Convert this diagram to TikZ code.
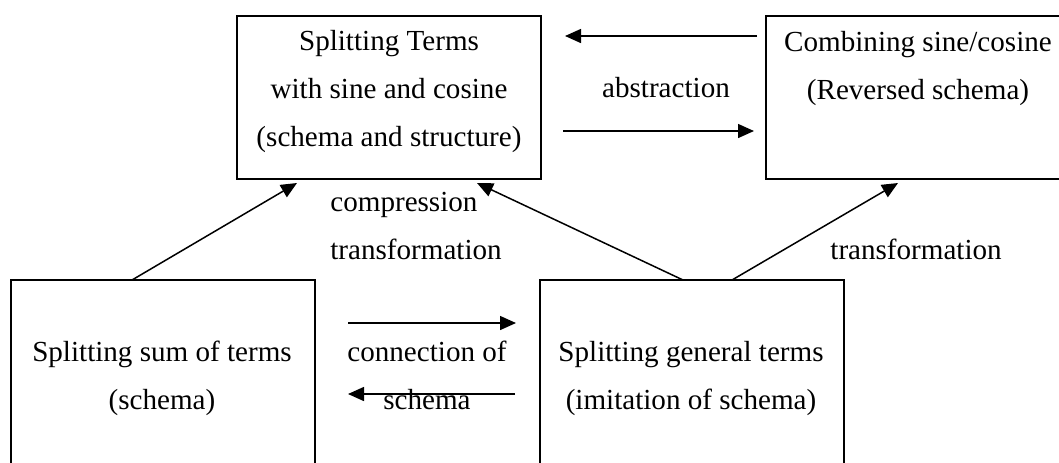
\documentclass[tikz,border=0pt]{standalone}
\usepackage{fontspec}
\setmainfont{Liberation Serif}
\usetikzlibrary{arrows.meta}

\begin{document}
\begin{tikzpicture}[x=0.5pt,y=-0.5pt,>={Triangle[length=8pt,width=7pt]},
  box node/.style={draw,line width=1pt,rectangle,anchor=north west,inner sep=0pt,outer sep=0pt,
    minimum width=152pt,minimum height=81.5pt},
  text node/.style={anchor=base,align=center,inner sep=0pt,font=\fontsize{14.55}{24}\selectfont},
  link/.style={->,line width=0.75pt}]

  \useasboundingbox (0,0) rectangle (1059,462);
  \clip (0,0) rectangle (1059,462);

  % boxes
  \node[box node] (split) at (237,16) {};
  \node[box node] (comb) at (766,16) {};
  \node[box node,minimum height=125pt] (sum) at (11,280) {};
  \node[box node,minimum height=125pt] (gen) at (540,280) {};

  % box texts (base = last line)
  \node[text node] (splittext) at (389,146) {Splitting Terms\\with sine and cosine\\(schema and structure)};
  \node[text node] (combtext) at (918,99) {Combining sine/cosine\\(Reversed schema)};
  \node[text node] (sumtext) at (162,409) {Splitting sum of terms\\(schema)};
  \node[text node] (gentext) at (691,409) {Splitting general terms\\(imitation of schema)};

  % labels
  \node[text node] (abstr) at (666,97) {abstraction};
  \node[text node,align=left,anchor=base west] (compr) at (330,259) {compression\\transformation};
  \node[text node,anchor=base west] (transf) at (830,259) {transformation};
  \node[text node] (conn) at (427,409) {connection of\\schema};

  % arrow ends
  \coordinate (ab1) at (757,36);
  \coordinate (ab2) at (565,36);
  \coordinate (ab3) at (563,131);
  \coordinate (ab4) at (754,131);
  \coordinate (up1) at (132,280);
  \coordinate (up2) at (297,183);
  \coordinate (up3) at (683,280);
  \coordinate (up4) at (477,183);
  \coordinate (up5) at (732,280);
  \coordinate (up6) at (898,183);
  \coordinate (cn1) at (348,323);
  \coordinate (cn2) at (516,323);
  \coordinate (cn3) at (515,394);
  \coordinate (cn4) at (348,394);

  \draw[link] (ab1) -- (ab2);
  \draw[link] (ab3) -- (ab4);
  \draw[link] (up1) -- (up2);
  \draw[link] (up3) -- (up4);
  \draw[link] (up5) -- (up6);
  \draw[link] (cn1) -- (cn2);
  \draw[link] (cn3) -- (cn4);
\end{tikzpicture}
\end{document}
